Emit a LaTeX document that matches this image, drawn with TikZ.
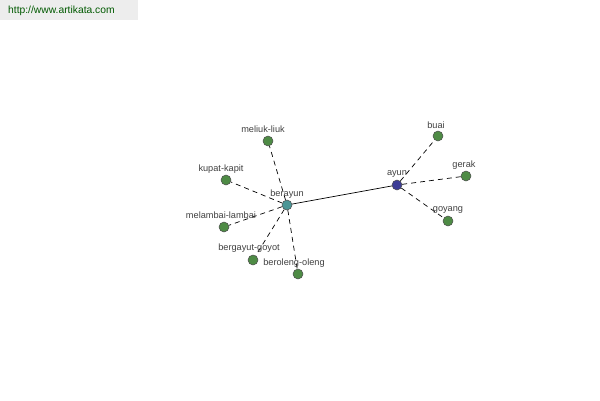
\documentclass[tikz,border=0pt]{standalone}
\usepackage{fontspec}
\setmainfont{Liberation Sans}
\begin{document}
\begin{tikzpicture}[x=1pt,y=-1pt,
  dot/.style={circle,draw=black!70,line width=0.5pt,minimum size=10pt,inner sep=0pt},
  lbl/.style={font=\fontsize{9.2}{10}\selectfont,text=black!75,inner sep=0pt},
  dashl/.style={dash pattern=on 5pt off 4pt,line width=0.7pt},
  solidl/.style={line width=0.7pt}]
\useasboundingbox (0,0) rectangle (600,400);
\fill[black!7] (0,0) rectangle (138,20);
\node[font=\fontsize{10.3}{12}\selectfont,text=green!35!black,anchor=west,inner sep=0pt] (url) at (8,10.5) {http://www.artikata.com};
\definecolor{leafc}{HTML}{4E8B45}
\definecolor{tealc}{HTML}{4A9696}
\definecolor{bluec}{HTML}{3C3C96}
\tikzset{leaf/.style={dot,fill=leafc}}
\node[dot,fill=tealc] (berayun) at (287,205) {};
\node[dot,fill=bluec] (ayun) at (397,185) {};
\node[leaf] (meliuk) at (268,141) {};
\node[leaf] (kupat) at (226,180) {};
\node[leaf] (melambai) at (224,227) {};
\node[leaf] (bergayut) at (253,260) {};
\node[leaf] (beroleng) at (298,274) {};
\node[leaf] (buai) at (438,136) {};
\node[leaf] (gerak) at (466,176) {};
\node[leaf] (goyang) at (448,221) {};
\draw[dashl] (berayun) -- (meliuk);
\draw[dashl] (berayun) -- (kupat);
\draw[dashl] (berayun) -- (melambai);
\draw[dashl] (berayun) -- (bergayut);
\draw[dashl] (berayun) -- (beroleng);
\draw[solidl] (berayun) -- (ayun);
\draw[dashl] (ayun) -- (buai);
\draw[dashl] (ayun) -- (gerak);
\draw[dashl] (ayun) -- (goyang);
\node[lbl] (lberayun) at (287,194) {berayun};
\node[lbl] (layun) at (397,174) {ayun};
\node[lbl] (lmeliuk) at (263,129) {meliuk-liuk};
\node[lbl] (lkupat) at (221,169) {kupat-kapit};
\node[lbl] (lmelambai) at (221,215) {melambai-lambai};
\node[lbl] (lbergayut) at (249,248) {bergayut-goyot};
\node[lbl] (lberoleng) at (294,263) {beroleng-oleng};
\node[lbl] (lbuai) at (436,125) {buai};
\node[lbl] (lgerak) at (464,165) {gerak};
\node[lbl] (lgoyang) at (448,210) {goyang};
\end{tikzpicture}
\end{document}
